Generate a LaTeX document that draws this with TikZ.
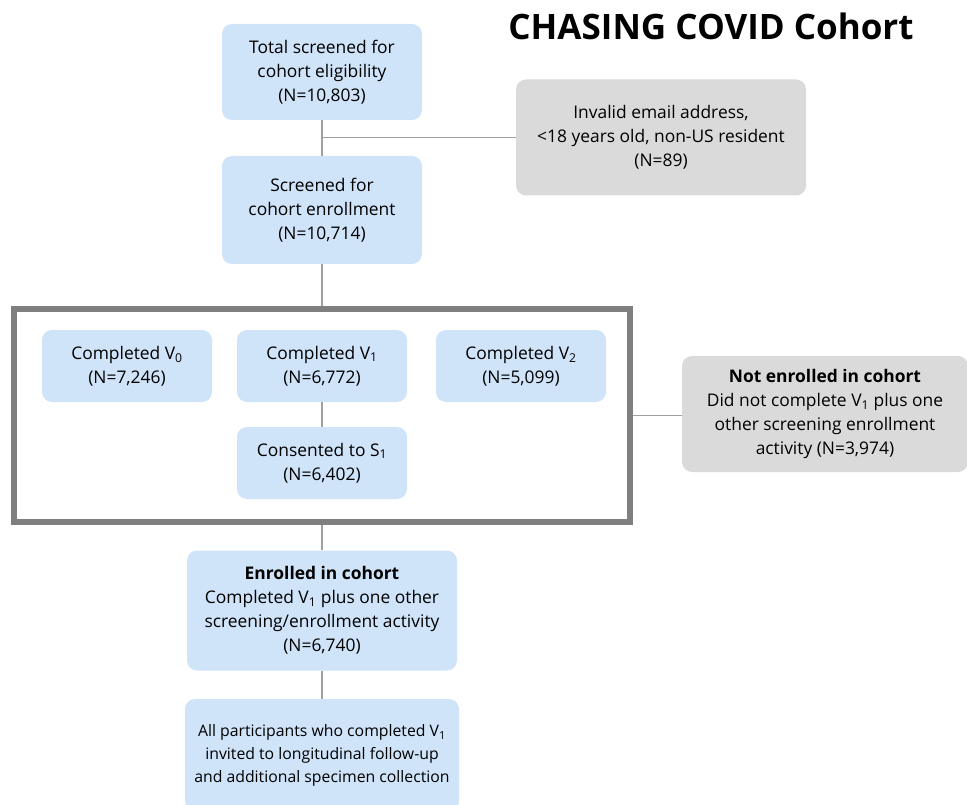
\documentclass[tikz,border=0pt]{standalone}
\usepackage{fontspec}
\setmainfont{Open Sans}
\usepackage{tikz}
\usetikzlibrary{positioning,calc}
\definecolor{cohortblue}{HTML}{CFE3F9}
\definecolor{cohortgrey}{HTML}{DADADA}
\definecolor{framegrey}{HTML}{7F7F7F}
\definecolor{linegrey}{HTML}{A0A0A0}

\begin{document}
\begin{tikzpicture}[
  x=1pt,y=-1pt,
  box/.style={fill=cohortblue,rounded corners=10pt,align=center,inner sep=0pt,
              font=\fontsize{17.4}{24}\selectfont},
  greybox/.style={box,fill=cohortgrey},
  frame/.style={draw=framegrey,line width=6pt,inner sep=0pt},
  link/.style={draw=linegrey,line width=1.3pt}
]
  \useasboundingbox (0,0) rectangle (967,805);
  \node[font=\fontsize{35}{40}\selectfont\bfseries] (title) at (711,26) {CHASING COVID Cohort};
  \node[box,minimum width=200pt,minimum height=96pt] (total) at (322,72)
    {Total screened for\\cohort eligibility\\(N=10,803)};
  \node[greybox,minimum width=290pt,minimum height=116pt] (invalid) at (661,137.5)
    {Invalid email address,\\<18 years old, non-US resident\\(N=89)};
  \node[box,minimum width=200pt,minimum height=108pt] (screened) at (322,210)
    {Screened for\\cohort enrollment\\(N=10,714)};
  \node[frame,minimum width=616pt,minimum height=213pt] (grp) at (322,415.5) {};
  \node[box,minimum width=170pt,minimum height=72pt] (v0) at (127,366)
    {Completed V\textsubscript{0}\\(N=7,246)};
  \node[box,minimum width=170pt,minimum height=72pt] (v1) at (322,366)
    {Completed V\textsubscript{1}\\(N=6,772)};
  \node[box,minimum width=170pt,minimum height=72pt] (v2) at (521,366)
    {Completed V\textsubscript{2}\\(N=5,099)};
  \node[box,minimum width=170pt,minimum height=72pt] (s1) at (322,463)
    {Consented to S\textsubscript{1}\\(N=6,402)};
  \node[greybox,minimum width=286pt,minimum height=116pt] (notenr) at (825,414)
    {\textbf{Not enrolled in cohort}\\Did not complete V\textsubscript{1} plus one\\other screening enrollment\\activity (N=3,974)};
  \node[box,minimum width=270pt,minimum height=120pt] (enrolled) at (322,610.5)
    {\textbf{Enrolled in cohort}\\Completed V\textsubscript{1} plus one other\\screening/enrollment activity\\(N=6,740)};
  \node[box,minimum width=274pt,minimum height=112pt,
        font=\fontsize{15.8}{23}\selectfont] (followup) at (322,755)
    {All participants who completed V\textsubscript{1}\\invited to longitudinal follow-up\\and additional specimen collection};
  % connectors
  \coordinate (split) at (322,137.5);
  \draw[link] (total) -- (screened);
  \draw[link] (split) -- (invalid.west);
  \draw[link] (screened) -- (grp.north);
  \draw[link] (v1) -- (s1);
  \draw[link] (grp.east) -- (notenr.west |- grp.east);
  \draw[link] (grp.south) -- (enrolled);
  \draw[link] (enrolled) -- (followup);
\end{tikzpicture}
\end{document}
